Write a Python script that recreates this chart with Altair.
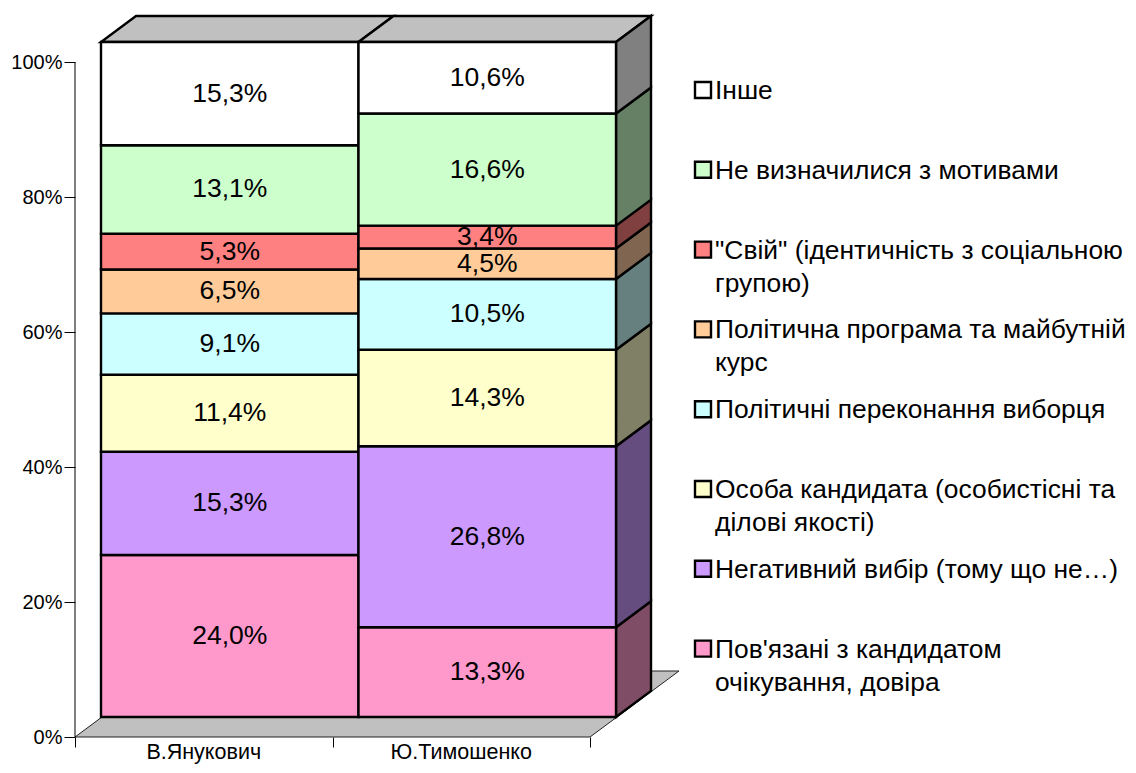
import altair as alt
import pandas as pd

candidates = ["В.Янукович", "Ю.Тимошенко"]
series = [
    "Пов'язані з кандидатом\nочікування, довіра",
    "Негативний вибір (тому що не…)",
    "Особа кандидата (особистісні та\nділові якості)",
    "Політичні переконання виборця",
    "Політична програма та майбутній\nкурс",
    "\"Свій\" (ідентичність з соціальною\nгрупою)",
    "Не визначилися з мотивами",
    "Інше",
]
yanukovych = [24.0, 15.3, 11.4, 9.1, 6.5, 5.3, 13.1, 15.3]
tymoshenko = [13.3, 26.8, 14.3, 10.5, 4.5, 3.4, 16.6, 10.6]
front_colors = ["#FF99CC", "#CC99FF", "#FFFFCC", "#CCFFFF", "#FFCC99", "#FF8080", "#CCFFCC", "#FFFFFF"]
side_colors = ["#804D66", "#664D80", "#808066", "#668080", "#806650", "#804040", "#668066", "#808080"]
y_ticks = [0, 20, 40, 60, 80, 100]

FONT = "Liberation Sans"
X_UNIT, Y_UNIT = 257.5, 6.75          # px per category, px per percent
PLOT_W, PLOT_H = 605, 721
OFF_X, OFF_Y = 26 / X_UNIT, 20 / Y_UNIT   # front of bars relative to the axis corner
DEP_X, DEP_Y = 35 / X_UNIT, 26 / Y_UNIT   # bar depth
FLOOR_X, FLOOR_Y = 89 / X_UNIT, 66 / Y_UNIT  # floor depth

x_enc = dict(scale=alt.Scale(domain=[0, PLOT_W / X_UNIT], nice=False, zero=False))
y_enc = dict(scale=alt.Scale(domain=[0, PLOT_H / Y_UNIT], nice=False, zero=False))
side_names = [s + " (side)" for s in series]
color_scale = alt.Scale(domain=series + side_names, range=front_colors + side_colors)

front_rows, side_rows, label_rows = [], [], []
for c, (cand, vals) in enumerate(zip(candidates, [yanukovych, tymoshenko])):
    base = 0.0
    for s, v in zip(series, vals):
        top = base + v
        front_rows.append(dict(series=s, x=c + OFF_X, x2=c + 1 + OFF_X, y=base + OFF_Y, y2=top + OFF_Y))
        label_rows.append(dict(x=c + 0.5 + OFF_X, y=base + v / 2 + OFF_Y, label=f"{v:.1f}%".replace(".", ",")))
        if c == len(candidates) - 1:
            for d in (0, 1):
                side_rows.append(dict(series=s + " (side)", x=c + 1 + OFF_X + d * DEP_X,
                                      y=base + OFF_Y + d * DEP_Y, y2=top + OFF_Y + d * DEP_Y))
        base = top

front = pd.DataFrame(front_rows)
sides = pd.DataFrame(side_rows)
labels = pd.DataFrame(label_rows)

floor = pd.DataFrame([
    dict(y=0, x=0, x2=len(candidates)),
    dict(y=FLOOR_Y, x=FLOOR_X, x2=len(candidates) + FLOOR_X),
])
tops = pd.DataFrame([
    dict(bar=c, y=100 + OFF_Y + d * DEP_Y, x=c + OFF_X + d * DEP_X, x2=c + 1 + OFF_X + d * DEP_X)
    for c in range(len(candidates)) for d in (0, 1)
])

LEG_FIRST, LEG_STEP = (737 - 90) / Y_UNIT, 79.8 / Y_UNIT
legend = pd.DataFrame([
    dict(series=s, y=LEG_FIRST - i * LEG_STEP,
         x=(703 - 75) / X_UNIT, tx=(715 - 75) / X_UNIT)
    for i, s in enumerate(reversed(series))
])
cats = pd.DataFrame([dict(name=n, x=i + 0.5, y=0) for i, n in enumerate(candidates)])

X = lambda f="x", **kw: alt.X(f"{f}:Q", **x_enc, **kw)
Y = lambda f="y", **kw: alt.Y(f"{f}:Q", **y_enc, **kw)
x_axis = alt.Axis(values=[0, 1, 2], labels=False, title=None, domain=False, grid=False,
                  tickSize=10, tickColor="#000", tickWidth=1)
y_axis = alt.Axis(values=y_ticks, title=None, domain=False, grid=False, tickSize=11, tickColor="#000",
                  tickWidth=1, labelExpr="datum.value + '%'", labelFont=FONT, labelFontSize=20,
                  labelColor="#000", labelPadding=2)

axis_rule = alt.Chart(pd.DataFrame({"x": [0], "y": [0], "y2": [100]})).mark_rule(color="#000", strokeWidth=1).encode(
    x=X(axis=x_axis), y=Y(axis=y_axis), y2="y2:Q")
floor_layer = alt.Chart(floor).mark_area(orient="horizontal", fill="#C0C0C0", stroke="#222", strokeWidth=1).encode(
    x=X(), x2="x2:Q", y=Y())
top_layer = alt.Chart(tops).mark_area(orient="horizontal", fill="#C0C0C0", stroke="#000", strokeWidth=2.4).encode(
    x=X(), x2="x2:Q", y=Y(), detail="bar:N")
side_layer = alt.Chart(sides).mark_area(orient="vertical", stroke="#000", strokeWidth=2.4).encode(
    x=X(), y=Y(), y2="y2:Q", color=alt.Color("series:N", scale=color_scale, legend=None))
front_layer = alt.Chart(front).mark_rect(stroke="#000", strokeWidth=2.4).encode(
    x=X(), x2="x2:Q", y=Y(), y2="y2:Q", color=alt.Color("series:N", scale=color_scale, legend=None))
label_layer = alt.Chart(labels).mark_text(font=FONT, fontSize=26.5, color="#000").encode(
    x=X(), y=Y(), text="label:N")
cat_layer = alt.Chart(cats).mark_text(font=FONT, fontSize=21.5, color="#000", dy=22, baseline="alphabetic").encode(
    x=X(), y=Y(), text="name:N")
swatch_layer = alt.Chart(legend).mark_square(size=256, opacity=1, stroke="#000", strokeWidth=2.4).encode(
    x=X(), y=Y(), color=alt.Color("series:N", scale=color_scale, legend=None))
leg_text = alt.Chart(legend).mark_text(font=FONT, fontSize=26.4, color="#000", align="left", baseline="alphabetic",
                                       dy=9, lineBreak="\n", lineHeight=33).encode(
    x=X("tx"), y=Y(), text="series:N")

chart = alt.layer(floor_layer, axis_rule, top_layer, side_layer, front_layer, label_layer, cat_layer,
                  swatch_layer, leg_text).properties(
    width=PLOT_W, height=PLOT_H,
    autosize=alt.AutoSizeParams(type="none"),
    padding={"left": 67, "top": 8, "right": 448, "bottom": 28},
    background="white",
).configure_view(stroke=None)

chart.save("out.html", embed_options={"renderer": "svg", "actions": False})
